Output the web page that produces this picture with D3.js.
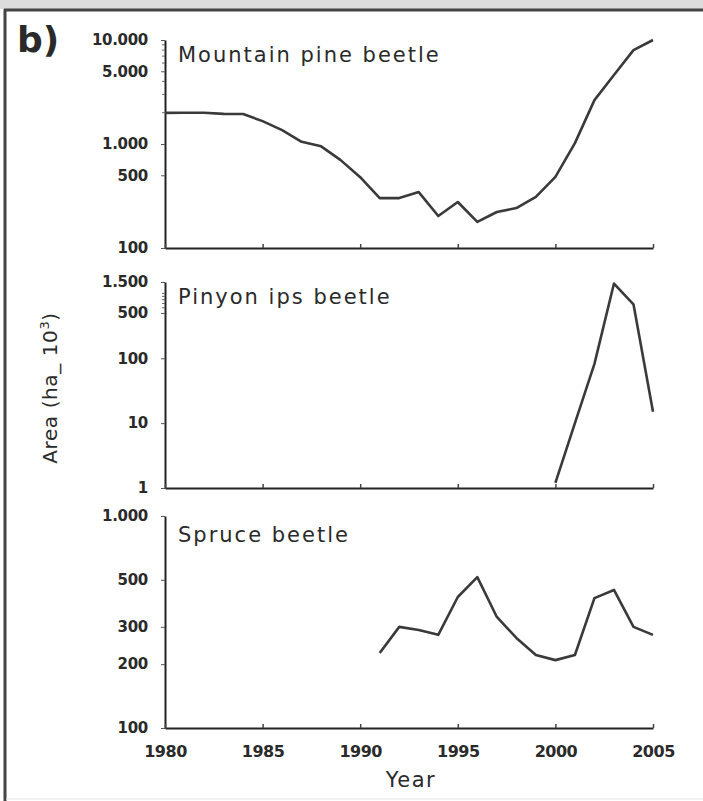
<html>
<script src="https://cdn.jsdelivr.net/npm/d3@7"></script>
<style>
  body {margin: 0; background: white;}
  text {font-family: "DejaVu Sans", Verdana, sans-serif; fill: #2a2a2a;}
</style>
<body>
<svg id="chart" width="703" height="801"></svg>
<script>
// years shared by every panel
var years = [1980,1981,1982,1983,1984,1985,1986,1987,1988,1989,1990,1991,1992,
             1993,1994,1995,1996,1997,1998,1999,2000,2001,2002,2003,2004,2005];

// mountain pine beetle, area (ha x 10^3), 1980-2005
var pineValues = [1990,2000,2000,1950,1940,1660,1360,1050,950,700,480,302,302,
                  345,203,277,178,222,242,310,482,1020,2640,4600,8000,10000];

// pinyon ips beetle, 2000-2005 only
var ipsYears = [2000,2001,2002,2003,2004,2005];
var ipsValues = [1.2,10,82,1420,680,15];

// spruce beetle, 1991-2005 only
var spruceYears = [1991,1992,1993,1994,1995,1996,1997,1998,1999,2000,2001,2002,2003,2004,2005];
var spruceValues = [226,300,290,275,415,515,334,266,221,209,221,410,448,300,275];

// tick labels
var xTicks = [1980,1985,1990,1995,2000,2005];
var pineTicks = [100,500,1000,5000,10000];
var pineLabels = ["100","500","1.000","5.000","10.000"];
var ipsTicks = [1,10,100,500,1500];
var ipsLabels = ["1","10","100","500","1.500"];
var spruceTicks = [100,200,300,500,1000];
var spruceLabels = ["100","200","300","500","1.000"];

var svg = d3.select("#chart");

// scanned frame: grey band on top, dark rule top and left
svg.append("rect").attr("x",0).attr("y",0).attr("width",703).attr("height",9).attr("fill","#dcdcdc");
svg.append("line").attr("x1",4).attr("x2",703).attr("y1",10).attr("y2",10)
  .attr("stroke","#444").attr("stroke-width",3);
svg.append("line").attr("x1",5).attr("x2",5).attr("y1",9).attr("y2",801)
  .attr("stroke","#444").attr("stroke-width",3);
svg.append("line").attr("x1",6).attr("x2",703).attr("y1",799).attr("y2",799)
  .attr("stroke","#e4e4e4").attr("stroke-width",1);

var xs = d3.scaleLinear().domain([1980,2005]).range([165,653]);

// one panel: log y scale, axes, line and title
function panel(top, bottom, domain, ticks, labels, minor, xsArr, vals, title, titleY, showYears) {
  var ys = d3.scaleLog().domain(domain).range([bottom, top]);

  var yAxis = d3.axisLeft(ys).tickValues(ticks)
    .tickFormat(function(d,i) {return labels[i];})
    .tickSize(4).tickSizeOuter(0);
  var gy = svg.append("g").attr("transform","translate(165,0)").call(yAxis);
  gy.select(".domain").attr("stroke","#222").attr("stroke-width",2);
  gy.selectAll(".tick line").attr("stroke","#555");
  gy.selectAll(".tick text").attr("x",-17).attr("font-size","15px").attr("font-weight","bold")
    .attr("fill","#333").style("letter-spacing","-0.3px");

  // small log ticks
  svg.append("g").selectAll("line").data(minor).enter().append("line")
    .attr("x1",162).attr("x2",165)
    .attr("y1",function(d) {return ys(d);}).attr("y2",function(d) {return ys(d);})
    .attr("stroke","#666").attr("stroke-width",1);

  var xAxis = d3.axisBottom(xs).tickValues(xTicks).tickSize(-4).tickSizeOuter(0)
    .tickFormat(showYears ? d3.format("d") : "");
  var gx = svg.append("g").attr("transform","translate(0," + bottom + ")").call(xAxis);
  gx.select(".domain").attr("stroke","#222").attr("stroke-width",2.2);
  gx.selectAll(".tick line").attr("stroke","#444").attr("stroke-width",1.5);
  gx.selectAll(".tick text").attr("y",18).attr("font-size","16px").attr("font-weight","bold")
    .attr("fill","#333").style("letter-spacing","-0.5px");

  var line = d3.line()
    .x(function(d,i) {return xs(xsArr[i]);})
    .y(function(d) {return ys(d);});
  svg.append("path").datum(vals).attr("d",line)
    .attr("fill","none").attr("stroke","#3a3a3a").attr("stroke-width",2.6)
    .attr("stroke-linejoin","round");

  svg.append("text").attr("x",178).attr("y",titleY).attr("font-size","21px")
    .attr("fill","#333").style("letter-spacing","2px").text(title);
}

panel(40, 248, [100,10000], pineTicks, pineLabels,
      [2000,3000,4000,6000,7000,8000,9000], years, pineValues, "Mountain pine beetle", 62, false);
panel(282, 488, [1,1500], ipsTicks, ipsLabels,
      [600,700,800,900,1000], ipsYears, ipsValues, "Pinyon ips beetle", 304, false);
panel(516, 728, [100,1000], spruceTicks, spruceLabels,
      [], spruceYears, spruceValues, "Spruce beetle", 542, true);

// labels
svg.append("text").attr("x",17).attr("y",52).attr("font-size","36px").attr("font-weight","bold")
  .attr("fill","#222").text("b)");
svg.append("text").attr("transform","translate(57,388) rotate(-90)").attr("text-anchor","middle")
  .attr("font-size","20px").attr("fill","#444").style("letter-spacing","0.6px")
  .html("Area (ha_ 10<tspan dy='-8' font-size='13px'>3</tspan><tspan dy='8'>)</tspan>");
svg.append("text").attr("x",411).attr("y",787).attr("text-anchor","middle")
  .attr("font-size","21px").attr("fill","#444").style("letter-spacing","1.5px").text("Year");
</script>
</body>
</html>
